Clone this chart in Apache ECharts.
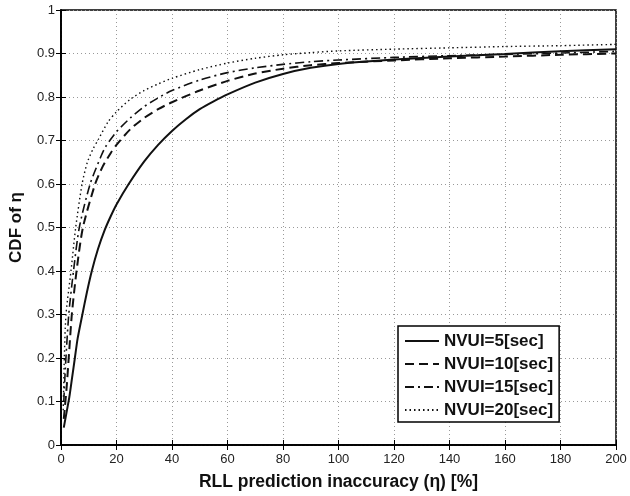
<!DOCTYPE html>
<html>
<head>
<meta charset="utf-8">
<script src="https://cdn.jsdelivr.net/npm/echarts@6/dist/echarts.min.js"></script>
<style>html,body{margin:0;padding:0;background:#fff}#c{width:630px;height:496px}</style>
</head>
<body>
<div id="c"></div>
<script>
var seriesNames = ['NVUI=5[sec]', 'NVUI=10[sec]', 'NVUI=15[sec]', 'NVUI=20[sec]'];
var xTicks = [0, 20, 40, 60, 80, 100, 120, 140, 160, 180, 200];
var yTicks = [0, 0.1, 0.2, 0.3, 0.4, 0.5, 0.6, 0.7, 0.8, 0.9, 1];

var nvui5 = [[1,0.04],[2,0.075],[3,0.11],[4,0.155],[5,0.2],[6,0.245],[7.7,0.3],[9.3,0.35],[11.1,0.4],[13.3,0.45],[15.8,0.495],[18,0.527],[20,0.553],[24.4,0.6],[30,0.652],[35,0.69],[40,0.722],[45,0.749],[50,0.772],[55,0.79],[60,0.806],[70,0.833],[80,0.853],[90,0.867],[100,0.876],[120,0.886],[140,0.893],[160,0.899],[180,0.905],[200,0.91]];
var nvui10 = [[1,0.06],[2,0.13],[3,0.22],[3.9,0.3],[5.6,0.4],[7.9,0.5],[12.3,0.6],[15,0.64],[18,0.672],[20,0.69],[25,0.726],[30,0.752],[35,0.772],[40,0.788],[50,0.815],[60,0.837],[70,0.854],[80,0.865],[90,0.873],[100,0.878],[120,0.884],[140,0.889],[160,0.893],[180,0.897],[200,0.9]];
var nvui15 = [[1,0.1],[1.6,0.18],[2.8,0.3],[4.5,0.4],[6.6,0.5],[10.5,0.6],[14.3,0.662],[16,0.685],[20,0.72],[25,0.752],[30,0.778],[35,0.798],[40,0.815],[50,0.839],[60,0.856],[70,0.867],[80,0.875],[90,0.881],[100,0.885],[120,0.891],[140,0.895],[160,0.898],[180,0.901],[200,0.905]];
var nvui20 = [[0.8,0.08],[1.2,0.2],[1.8,0.3],[3.6,0.4],[5.3,0.5],[7.6,0.6],[9.5,0.65],[11.5,0.68],[13.5,0.703],[17,0.743],[20,0.766],[25,0.795],[30,0.815],[35,0.83],[40,0.843],[50,0.863],[60,0.878],[70,0.889],[80,0.897],[90,0.902],[100,0.906],[120,0.91],[140,0.913],[160,0.916],[180,0.918],[200,0.921]];

var seriesData = [nvui5, nvui10, nvui15, nvui20];
var dashTypes = ['solid', [9, 5], [9, 4, 2, 4], [1.5, 3]];
var widths = [2, 2, 1.6, 1.4];

var chart = echarts.init(document.getElementById('c'), null, {renderer: 'canvas'});
var numFont = '"Liberation Sans", Arial, sans-serif';
var gridStyle = {show: true, lineStyle: {color: '#999', type: [1, 3], width: 1}};
var option = {
  animation: false,
  backgroundColor: '#fff',
  grid: {left: 56, right: 14, top: 10, bottom: 42, show: true, borderColor: '#000', borderWidth: 1.5},
  legend: {
    data: seriesNames,
    orient: 'vertical',
    left: 398, top: 326,
    width: 161,
    itemWidth: 34, itemHeight: 14, itemGap: 5,
    padding: [6, 6, 3, 6],
    backgroundColor: '#fff',
    borderColor: '#000', borderWidth: 1.5,
    itemStyle: {opacity: 0, borderWidth: 0},
    textStyle: {fontFamily: '"Liberation Sans", Arial, sans-serif', fontWeight: 'bold', fontSize: 17, color: '#111', padding: [0, 0, 0, 0], lineHeight: 18}
  },
  xAxis: [{
    type: 'value', min: 0, max: 200, interval: 20,
    name: 'RLL prediction inaccuracy (\u03b7) [%]', nameLocation: 'middle', nameGap: 28,
    nameTextStyle: {fontFamily: '"Liberation Sans", Arial, sans-serif', fontWeight: 'bold', fontSize: 17.5, color: '#111'},
    axisLine: {show: true, lineStyle: {color: '#000', width: 1.5}},
    axisTick: {show: true, inside: true, length: 5, lineStyle: {color: '#000'}},
    axisLabel: {fontFamily: numFont, fontSize: 13, color: '#222', margin: 8, formatter: function (v) { return xTicks.indexOf(v) >= 0 ? String(v) : ''; }},
    splitLine: gridStyle
  }, {
    type: 'value', min: 0, max: 200, interval: 20, position: 'top',
    axisLine: {show: true, lineStyle: {color: '#000', width: 1.5}},
    axisTick: {show: true, inside: true, length: 5, lineStyle: {color: '#000'}},
    axisLabel: {show: false}, splitLine: {show: false}
  }],
  yAxis: [{
    type: 'value', min: 0, max: 1, interval: 0.1,
    name: 'CDF of \u03b7', nameLocation: 'middle', nameGap: 36,
    nameTextStyle: {fontFamily: '"Liberation Sans", Arial, sans-serif', fontWeight: 'bold', fontSize: 17, color: '#111'},
    axisLine: {show: true, lineStyle: {color: '#000', width: 1.5}},
    axisTick: {show: true, inside: true, length: 5, lineStyle: {color: '#000'}},
    axisLabel: {fontFamily: numFont, fontSize: 13, color: '#222', margin: 6, formatter: function (v) {
      var r = Math.round(v * 10) / 10; return yTicks.indexOf(r) < 0 ? '' : (r === 0 ? '0' : (r === 1 ? '1' : r.toFixed(1))); }},
    splitLine: gridStyle
  }, {
    type: 'value', min: 0, max: 1, interval: 0.1, position: 'right',
    axisLine: {show: true, lineStyle: {color: '#000', width: 1.5}},
    axisTick: {show: true, inside: true, length: 5, lineStyle: {color: '#000'}},
    axisLabel: {show: false}, splitLine: {show: false}
  }],
  series: seriesNames.map(function (n, i) {
    return {
      name: n, type: 'line', data: seriesData[i], smooth: 0.25,
      symbol: 'none', showSymbol: false,
      xAxisIndex: 0, yAxisIndex: 0,
      lineStyle: {color: '#111', width: widths[i], type: dashTypes[i]},
      itemStyle: {color: '#111'}
    };
  })
};
chart.setOption(option);
</script>
</body>
</html>
